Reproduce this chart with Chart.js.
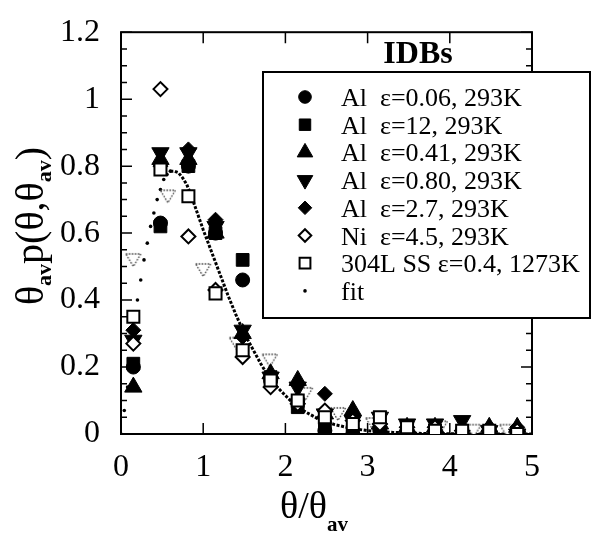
<!DOCTYPE html>
<html>
<head>
<meta charset="utf-8">
<script src="https://cdn.jsdelivr.net/npm/chart.js@4.4.1/dist/chart.umd.min.js"></script>
<style>
  html, body { margin: 0; padding: 0; background: #fff; }
</style>
</head>
<body>
<canvas id="chart" width="593" height="535"></canvas>
<script>
// bin centres shared by most of the measured series
const xBins = [0.15, 0.48, 0.82, 1.15, 1.48, 1.82, 2.15, 2.48, 2.82, 3.15, 3.48, 3.82, 4.15, 4.48, 4.82];

const alE006 = [0.20, 0.63, 0.80, 0.60, 0.46, 0.16, 0.10, 0.01, 0.00, 0.01, 0.00, 0.00, 0.00, 0.00, 0.00];
const alE12  = [0.21, 0.62, 0.80, 0.60, 0.52, 0.17, 0.08, 0.02, 0.00, 0.01, 0.00, 0.01, 0.00, 0.00, 0.00];
const alE041 = [0.14, 0.82, 0.82, 0.60, 0.30, 0.18, 0.16, 0.06, 0.07, 0.03, 0.02, 0.02, 0.01, 0.02, 0.02];
const alE080 = [0.28, 0.84, 0.84, 0.62, 0.31, 0.17, 0.14, 0.06, 0.04, 0.05, 0.03, 0.03, 0.04, 0.01, 0.00];
const alE27  = [0.31, 0.80, 0.85, 0.64, 0.29, 0.17, 0.15, 0.12, 0.05, 0.03, 0.02, 0.02, 0.01, 0.02, 0.02];
const niE45  = [0.27, 1.03, 0.59, 0.43, 0.23, 0.14, 0.09, 0.07, 0.04, 0.03, 0.02, 0.02, 0.01, 0.01, 0.01];
const ss304  = [0.35, 0.79, 0.71, 0.42, 0.25, 0.16, 0.10, 0.05, 0.03, 0.05, 0.02, 0.01, 0.01, 0.01, 0.00];

// unlabelled dotted triangles (own binning)
const dotTriX = [0.15, 0.57, 1.00, 1.41, 1.81, 2.24, 2.64, 3.07, 3.48, 3.88, 4.29, 4.70];
const dotTriY = [0.52, 0.71, 0.49, 0.27, 0.22, 0.12, 0.06, 0.03, 0.02, 0.02, 0.01, 0.01];

// fit curve
const fitX = [0, 0.04, 0.08, 0.12, 0.16, 0.20, 0.24, 0.28, 0.32, 0.36, 0.40, 0.44, 0.48, 0.52, 0.56, 0.60,
              0.65, 0.70, 0.75, 0.80, 0.85, 0.90, 0.95, 1.0, 1.1, 1.2, 1.3, 1.4, 1.5, 1.6, 1.7, 1.8, 1.9,
              2.0, 2.1, 2.2, 2.4, 2.6, 2.8, 3.0, 3.3, 3.6, 4.0, 4.5, 5.0];
const fitY = [0, 0.07, 0.14, 0.22, 0.31, 0.40, 0.46, 0.52, 0.57, 0.62, 0.66, 0.70, 0.73, 0.76, 0.775, 0.785,
              0.785, 0.78, 0.765, 0.745, 0.715, 0.68, 0.645, 0.61, 0.545, 0.48, 0.415, 0.355, 0.30, 0.255, 0.21, 0.17, 0.14,
              0.115, 0.09, 0.072, 0.045, 0.028, 0.017, 0.01, 0.005, 0.002, 0.001, 0, 0];

const yTickLabels = ['0', '0.2', '0.4', '0.6', '0.8', '1', '1.2'];

const legendLabels = [
  'Al  ε=0.06, 293K',
  'Al  ε=12, 293K',
  'Al  ε=0.41, 293K',
  'Al  ε=0.80, 293K',
  'Al  ε=2.7, 293K',
  'Ni  ε=4.5, 293K',
  '304L SS ε=0.4, 1273K',
  'fit'
];

const SERIF = '"Liberation Serif", "DejaVu Serif", serif';

function pts(xs, ys) {
  return xs.map((x, i) => ({ x: x, y: ys[i] }));
}

function dottedTriangle() {
  const c = document.createElement('canvas');
  c.width = 18; c.height = 16;
  const g = c.getContext('2d');
  g.fillStyle = '#fff';
  g.strokeStyle = '#444';
  g.lineWidth = 1.3;
  g.setLineDash([1.6, 1.4]);
  g.beginPath();
  g.moveTo(1.5, 2); g.lineTo(16.5, 2); g.lineTo(9, 14.5); g.closePath();
  g.fill(); g.stroke();
  return c;
}

// marker styles (used for plot and for the legend box)
const markers = [
  { pointStyle: 'circle',   rotation: 0,   radius: 7,   fill: '#000', border: '#000', bw: 1 },
  { pointStyle: 'rect',     rotation: 0,   radius: 9,   fill: '#000', border: '#000', bw: 1 },
  { pointStyle: 'triangle', rotation: 0,   radius: 10,  fill: '#000', border: '#000', bw: 1 },
  { pointStyle: 'triangle', rotation: 180, radius: 10,  fill: '#000', border: '#000', bw: 1 },
  { pointStyle: 'rectRot',  rotation: 0,   radius: 7.5, fill: '#000', border: '#000', bw: 1 },
  { pointStyle: 'rectRot',  rotation: 0,   radius: 7,   fill: '#fff', border: '#000', bw: 2 },
  { pointStyle: 'rect',     rotation: 0,   radius: 8.5, fill: '#fff', border: '#000', bw: 2 },
  { pointStyle: 'circle',   rotation: 0,   radius: 1.8, fill: '#000', border: '#000', bw: 0 }
];

function markerSet(label, data, m, order) {
  return {
    label: label, data: data, order: order,
    pointStyle: m.pointStyle, rotation: m.rotation, pointRadius: m.radius,
    backgroundColor: m.fill, borderColor: m.border, borderWidth: m.bw,
    pointHoverRadius: m.radius
  };
}

const series = [alE006, alE12, alE041, alE080, alE27, niE45, ss304];
const datasets = series.map((ys, i) => markerSet(legendLabels[i], pts(xBins, ys), markers[i], 7 - i));

datasets.push({
  label: 'dotted', data: pts(dotTriX, dotTriY), order: 8,
  pointStyle: dottedTriangle(), pointRadius: 8
});

datasets.push({
  label: 'fit', data: pts(fitX, fitY), order: 9,
  showLine: true,
  borderColor: '#000', borderWidth: 3, borderDash: [3, 1.6],
  backgroundColor: '#000',
  segment: { borderColor: ctx => (ctx.p1.parsed.x <= 0.6 ? 'rgba(0,0,0,0)' : '#000') },
  pointRadius: ctx => (ctx.raw && ctx.raw.x <= 0.6 ? 1.8 : 0),
  pointBorderWidth: 0
});

// frame + inward ticks
const framePlugin = {
  id: 'frame',
  beforeDatasetsDraw(chart) {
    const { ctx, chartArea: a, scales } = chart;
    ctx.save();
    ctx.strokeStyle = '#000';
    ctx.lineWidth = 2;
    ctx.strokeRect(a.left, a.top, a.right - a.left, a.bottom - a.top);
    ctx.lineWidth = 1.5;
    ctx.beginPath();
    for (let i = 0; i <= 24; i++) {
      const y = scales.y.getPixelForValue(i * 0.05);
      const len = i % 4 === 0 ? 11 : 6;
      ctx.moveTo(a.left, y); ctx.lineTo(a.left + len, y);
      ctx.moveTo(a.right, y); ctx.lineTo(a.right - len, y);
    }
    for (let i = 0; i <= 5; i++) {
      const x = scales.x.getPixelForValue(i);
      ctx.moveTo(x, a.bottom); ctx.lineTo(x, a.bottom - 11);
      ctx.moveTo(x, a.top); ctx.lineTo(x, a.top + 11);
    }
    ctx.stroke();
    ctx.restore();
  }
};

// legend box with title
const legendPlugin = {
  id: 'legendBox',
  afterDatasetsDraw(chart) {
    const ctx = chart.ctx;
    const box = { left: 263, top: 72, right: 590, bottom: 318 };
    ctx.save();
    ctx.fillStyle = '#fff';
    ctx.fillRect(box.left, box.top, box.right - box.left, box.bottom - box.top);
    ctx.strokeStyle = '#000';
    ctx.lineWidth = 2;
    ctx.strokeRect(box.left, box.top, box.right - box.left, box.bottom - box.top);

    ctx.fillStyle = '#000';
    ctx.font = 'bold 32px ' + SERIF;
    ctx.textAlign = 'center';
    ctx.textBaseline = 'alphabetic';
    ctx.fillText('IDBs', 418, 63);

    ctx.font = '26px ' + SERIF;
    ctx.textAlign = 'left';
    legendLabels.forEach((lab, i) => {
      const cy = 97 + i * 27.7;
      const m = markers[i];
      ctx.fillStyle = m.fill;
      ctx.strokeStyle = m.border;
      ctx.lineWidth = m.bw;
      const r = i === 7 ? 1.8 : m.radius * 0.9;
      Chart.helpers.drawPoint(ctx, { pointStyle: m.pointStyle, rotation: m.rotation, radius: r, borderWidth: m.bw }, 305, cy);
      ctx.fillStyle = '#000';
      ctx.fillText(lab, 341, cy + 9);
    });
    ctx.restore();
  }
};

// axis titles with subscripts
function drawSubText(ctx, parts, x, y, mainFont, subFont, subDrop) {
  let w = 0;
  parts.forEach(p => { ctx.font = p.sub ? subFont : mainFont; w += ctx.measureText(p.t).width; });
  let cx = x - w / 2;
  parts.forEach(p => {
    ctx.font = p.sub ? subFont : mainFont;
    ctx.fillText(p.t, cx, p.sub ? y + subDrop : y);
    cx += ctx.measureText(p.t).width;
  });
}

const titlePlugin = {
  id: 'axisTitles',
  afterDraw(chart) {
    const ctx = chart.ctx;
    ctx.save();
    ctx.fillStyle = '#000';
    ctx.textAlign = 'left';
    ctx.textBaseline = 'alphabetic';
    const mainFont = '40px ' + SERIF;
    const subFont = 'bold 22px ' + SERIF;
    drawSubText(ctx, [{ t: 'θ/θ' }, { t: 'av', sub: true }], 314, 518, '38px ' + SERIF, 'bold 21px ' + SERIF, 13);
    ctx.translate(43, 226);
    ctx.rotate(-Math.PI / 2);
    drawSubText(ctx, [{ t: 'θ' }, { t: 'av', sub: true }, { t: 'p(θ,θ' }, { t: 'av', sub: true }, { t: ')' }],
      0, 0, mainFont, subFont, 8);
    ctx.restore();
  }
};

new Chart(document.getElementById('chart'), {
  type: 'scatter',
  data: { datasets: datasets },
  options: {
    responsive: false,
    animation: false,
    layout: { padding: { top: 23, right: 61, left: 0, bottom: 0 } },
    plugins: { legend: { display: false }, tooltip: { enabled: false } },
    scales: {
      x: {
        min: 0, max: 5,
        ticks: { stepSize: 1, color: '#000', padding: 6, font: { family: SERIF, size: 32 } },
        grid: { display: false },
        border: { display: false },
        afterFit: s => { s.height = 101; }
      },
      y: {
        min: 0, max: 1.2,
        ticks: {
          stepSize: 0.2, color: '#000', padding: 13, font: { family: SERIF, size: 32 },
          callback: (v, i) => yTickLabels[i]
        },
        grid: { display: false },
        border: { display: false },
        afterFit: s => { s.width = 121; }
      }
    }
  },
  plugins: [framePlugin, legendPlugin, titlePlugin]
});
</script>
</body>
</html>
